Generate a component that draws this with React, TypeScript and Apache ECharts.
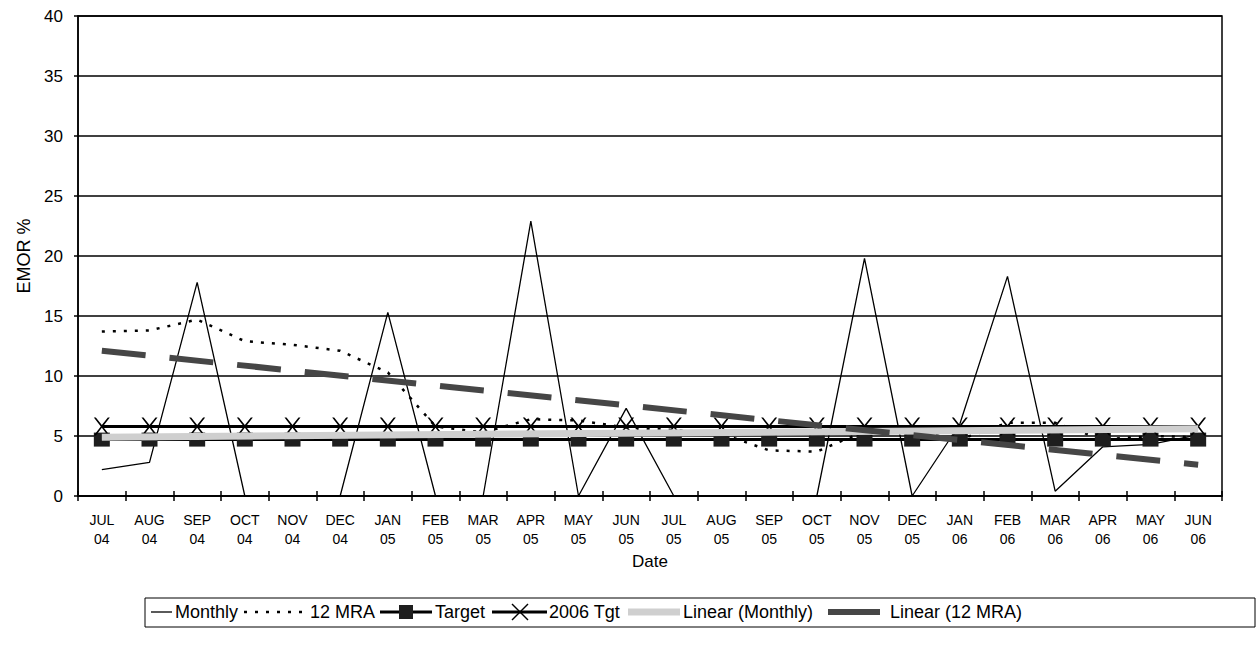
import React, { useEffect, useRef } from "react";
import * as echarts from "echarts";

// Reporting months, July 2004 to June 2006
const months = [
  "JUL\n04", "AUG\n04", "SEP\n04", "OCT\n04", "NOV\n04", "DEC\n04",
  "JAN\n05", "FEB\n05", "MAR\n05", "APR\n05", "MAY\n05", "JUN\n05",
  "JUL\n05", "AUG\n05", "SEP\n05", "OCT\n05", "NOV\n05", "DEC\n05",
  "JAN\n06", "FEB\n06", "MAR\n06", "APR\n06", "MAY\n06", "JUN\n06",
];

// EMOR % per month
const monthly = [
  2.2, 2.8, 17.8, 0, 0, 0, 15.3, 0, 0, 22.9, 0, 7.3,
  0, 0, 0, 0, 19.8, 0, 6.0, 18.3, 0.4, 4.1, 4.3, 5.1,
];

// 12-month rolling average
const mra12 = [
  13.7, 13.8, 14.7, 12.9, 12.6, 12.1, 10.3, 5.8, 5.3, 6.4, 6.3, 5.7,
  5.5, 5.2, 3.8, 3.7, 5.4, 5.4, 4.7, 6.1, 6.1, 4.7, 5.0, 4.9,
];

// Target levels
const target = [
  4.7, 4.7, 4.7, 4.7, 4.7, 4.7, 4.7, 4.7, 4.7, 4.7, 4.7, 4.7,
  4.7, 4.7, 4.7, 4.7, 4.7, 4.7, 4.7, 4.7, 4.7, 4.7, 4.7, 4.7,
];
const tgt2006 = [
  5.8, 5.8, 5.8, 5.8, 5.8, 5.8, 5.8, 5.8, 5.8, 5.8, 5.8, 5.8,
  5.8, 5.8, 5.8, 5.8, 5.8, 5.8, 5.8, 5.8, 5.8, 5.8, 5.8, 5.8,
];

// Trend line end values (first and last month)
const linMonthlyEnds = [4.9, 5.6];
const lin12Ends = [12.1, 2.6];

const yTicks = { min: 0, max: 40, interval: 5 };

const legendNames = ["Monthly", "12 MRA", "Target", "2006 Tgt", "Linear (Monthly)", "Linear (12 MRA)"];

const FONT = "'Liberation Sans', Arial, Helvetica, sans-serif";
const X_SYMBOL =
  "path://M0,0 L2.5,0 L10,8.5 L17.5,0 L20,0 L11.3,10 L20,20 L17.5,20 L10,11.5 L2.5,20 L0,20 L8.7,10 Z";

const TREND_LIGHT = "#cfcfcf";
const TREND_DARK = "#464646";

function trend(ends: number[]) {
  return months.map((_, i) => (i === 0 ? ends[0] : i === months.length - 1 ? ends[1] : null));
}

export default function App() {
  const ref = useRef<HTMLDivElement>(null);

  useEffect(() => {
    if (!ref.current) return;
    const chart = echarts.init(ref.current, undefined, { renderer: "svg" });

    const ly = 612;
    const txt = (x: number, text: string) => ({
      type: "text",
      x,
      y: ly,
      style: { text, font: `18px ${FONT}`, fill: "#000", textVerticalAlign: "middle" },
    });
    const legendItems: any[] = [
      { type: "rect", shape: { x: 145, y: 598, width: 1110, height: 29 }, style: { fill: "#fff", stroke: "#000", lineWidth: 1 } },
      // Monthly
      { type: "line", shape: { x1: 151, y1: ly, x2: 172, y2: ly }, style: { stroke: "#000", lineWidth: 1.3 } },
      txt(175, legendNames[0]),
      // 12 MRA
      { type: "line", shape: { x1: 244, y1: ly, x2: 306, y2: ly }, style: { stroke: "#000", lineWidth: 2.5, lineDash: [3, 8] } },
      txt(310, legendNames[1]),
      // Target
      { type: "line", shape: { x1: 380, y1: ly, x2: 432, y2: ly }, style: { stroke: "#000", lineWidth: 3 } },
      { type: "rect", shape: { x: 399, y: ly - 7, width: 14, height: 14 }, style: { fill: "#1e1e1e" } },
      txt(435, legendNames[2]),
      // 2006 Tgt
      { type: "line", shape: { x1: 492, y1: ly, x2: 547, y2: ly }, style: { stroke: "#000", lineWidth: 3 } },
      { type: "line", shape: { x1: 512, y1: ly - 8, x2: 528, y2: ly + 8 }, style: { stroke: "#000", lineWidth: 1.5 } },
      { type: "line", shape: { x1: 528, y1: ly - 8, x2: 512, y2: ly + 8 }, style: { stroke: "#000", lineWidth: 1.5 } },
      txt(549, legendNames[3]),
      // Linear (Monthly)
      { type: "line", shape: { x1: 628, y1: ly, x2: 680, y2: ly }, style: { stroke: TREND_LIGHT, lineWidth: 7 } },
      txt(683, legendNames[4]),
      // Linear (12 MRA)
      { type: "line", shape: { x1: 828, y1: ly, x2: 880, y2: ly }, style: { stroke: TREND_DARK, lineWidth: 6 } },
      txt(890, legendNames[5]),
    ];

    chart.setOption({
      animation: false,
      backgroundColor: "#fff",
      grid: {
        left: 78,
        top: 16,
        width: 1144,
        height: 480,
        show: true,
        borderColor: "#000",
        borderWidth: 1.5,
        backgroundColor: "transparent",
      },
      xAxis: [
        {
          type: "category",
          data: months,
          boundaryGap: true,
          name: "Date",
          nameLocation: "middle",
          nameGap: 52,
          nameTextStyle: { fontFamily: FONT, fontSize: 17, color: "#000" },
          axisLine: { lineStyle: { color: "#000", width: 1.5 } },
          axisTick: { show: true, length: 5, lineStyle: { color: "#000", width: 1.5 } },
          axisLabel: { fontFamily: FONT, fontSize: 14, color: "#000", lineHeight: 19, margin: 14, interval: 0 },
        },
        {
          type: "category",
          data: months,
          boundaryGap: true,
          position: "bottom",
          axisLine: { show: false },
          axisTick: { show: true, inside: true, length: 5, lineStyle: { color: "#000", width: 1.5 } },
          axisLabel: { show: false },
        },
      ],
      yAxis: {
        type: "value",
        min: yTicks.min,
        max: yTicks.max,
        interval: yTicks.interval,
        name: "EMOR %",
        nameLocation: "middle",
        nameRotate: 90,
        nameGap: 45,
        nameTextStyle: { fontFamily: FONT, fontSize: 18, color: "#000" },
        axisLine: { show: true, lineStyle: { color: "#000", width: 1.5 } },
        axisTick: { show: true, length: 4, lineStyle: { color: "#000", width: 1.5 } },
        axisLabel: { fontFamily: FONT, fontSize: 17, color: "#000", margin: 15 },
        splitLine: { show: true, lineStyle: { color: "#000", width: 1.5 } },
      },
      series: [
        {
          name: legendNames[0],
          type: "line",
          data: monthly,
          symbol: "none",
          lineStyle: { color: "#000", width: 1.3 },
          z: 2,
        },
        {
          name: legendNames[1],
          type: "line",
          data: mra12,
          symbol: "none",
          lineStyle: { color: "#000", width: 2.5, type: [3, 8] },
          z: 3,
        },
        {
          name: legendNames[2],
          type: "line",
          data: target,
          symbol: "rect",
          symbolSize: [16, 14],
          itemStyle: { color: "#1e1e1e" },
          lineStyle: { color: "#000", width: 3 },
          z: 4,
        },
        {
          name: legendNames[3],
          type: "line",
          data: tgt2006,
          symbol: X_SYMBOL,
          symbolSize: [16, 18],
          itemStyle: { color: "#000" },
          lineStyle: { color: "#000", width: 3 },
          z: 5,
        },
        {
          name: legendNames[4],
          type: "line",
          data: trend(linMonthlyEnds),
          connectNulls: true,
          symbol: "none",
          lineStyle: { color: TREND_LIGHT, width: 7 },
          z: 6,
        },
        {
          name: legendNames[5],
          type: "line",
          data: trend(lin12Ends),
          connectNulls: true,
          symbol: "none",
          lineStyle: { color: TREND_DARK, width: 6, type: [44, 24] },
          z: 7,
        },
      ],
      graphic: legendItems,
    });

    return () => chart.dispose();
  }, []);

  return (
    <div
      ref={ref}
      style={{ position: "absolute", left: 0, top: 0, width: 1260, height: 646, background: "#fff" }}
    />
  );
}
